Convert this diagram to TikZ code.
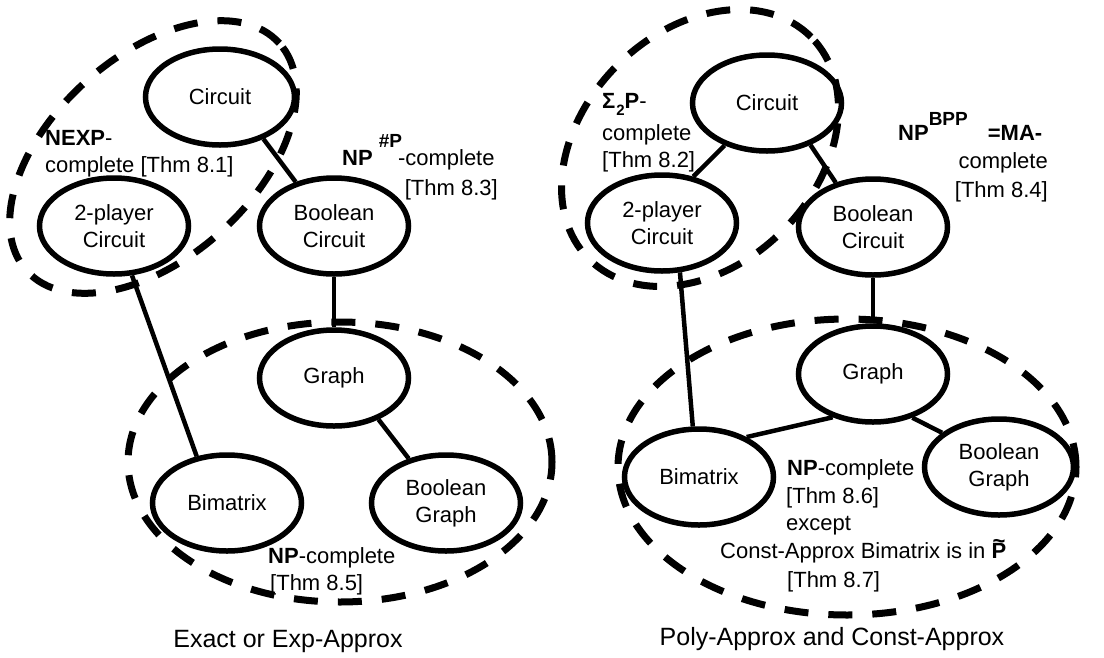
\documentclass[tikz,border=0pt]{standalone}
\usepackage{fontspec}
\setmainfont{Liberation Sans}
\usepackage{tikz}
\usetikzlibrary{shapes.geometric, positioning}
\newcommand\nodefont{\fontsize{22}{27}\selectfont}
\newcommand\capfont{\fontsize{25}{30}\selectfont}
\newcommand\cls[1]{{\bfseries #1}}
\newcommand\supcls[2]{\raisebox{#1}{\fontsize{19}{19}\selectfont\bfseries #2}}
\newcommand\ptilde{{\bfseries\setbox0\hbox{P}\rlap{\hbox to\wd0{\hss\raisebox{0.45em}{\textasciitilde}\hss}}\box0}}
\tikzstyle{problem} = [ellipse, draw=black, line width=5.5pt, minimum width=149pt, minimum height=96pt, inner sep=0pt, align=center, font=\nodefont]
\tikzstyle{group} = [draw=black, line width=7pt, dash pattern=on 24pt off 20pt]
\tikzstyle{link} = [draw=black, line width=4.5pt]
\tikzstyle{note} = [anchor=base west, inner sep=0pt, font=\nodefont]
\tikzstyle{caption} = [anchor=base, inner sep=0pt, font=\capfont]

\begin{document}
\begin{tikzpicture}[x=1pt, y=1pt, node distance=125pt]
\useasboundingbox (0,0) rectangle (1104,-657);

\node (cir1) [problem] at (220,-97) {Circuit};
\node (tp1) [problem, below of=cir1, xshift=-106pt, yshift=-4pt] {2-player\\Circuit};
\node (bc1) [problem, right of=tp1, xshift=95pt] {Boolean\\Circuit};
\node (gr1) [problem, below of=bc1, yshift=-27pt] {Graph};
\node (bm1) [problem, below of=gr1, xshift=-107pt] {Bimatrix};
\node (bg1) [problem, right of=bm1, xshift=94pt] {Boolean\\Graph};

\node (cir2) [problem, right of=cir1, xshift=422pt, yshift=-6pt] {Circuit};
\node (tp2) [problem, below of=cir2, xshift=-105pt, yshift=5pt] {2-player\\Circuit};
\node (bc2) [problem, right of=tp2, xshift=86pt, yshift=-4pt] {Boolean\\Circuit};
\node (gr2) [problem, below of=bc2, yshift=-22pt] {Graph};
\node (bm2) [problem, below of=gr2, xshift=-174pt, yshift=22pt] {Bimatrix};
\node (bg2) [problem, right of=bm2, xshift=175pt, yshift=10pt] {Boolean\\Graph};

\draw [group, rotate around={42:(153,-157)}] (153,-157) ellipse [x radius=170pt, y radius=101pt];
\draw [group] (340,-462) ellipse [x radius=212pt, y radius=140pt];
\draw [group, rotate around={45:(700,-148)}] (700,-148) ellipse [x radius=157pt, y radius=117pt];
\draw [group] (847,-467) ellipse [x radius=229pt, y radius=148pt];

\draw [link] (cir1.316) -- (bc1.131);
\draw [link] (bc1.south) -- (gr1.north);
\draw [link] (tp1.290) -- (bm1.123);
\draw [link] (gr1.317) -- (bg1.130);

\draw [link] (cir2.225) -- (tp2.56);
\draw [link] (cir2.316) -- (bc2.130);
\draw [link] (bc2.south) -- (gr2.north);
\draw [link] (tp2.290) -- (bm2.97);
\draw [link] (gr2.227) -- (bm2.40);
\draw [link] (gr2.312) -- (bg2.149);

\node (nexp1) [note] at (45,-145) {\cls{NEXP}-};
\node (nexp2) [note] at (45,-172) {complete [Thm 8.1]};
\node (sharp1) [note] at (342,-165) {\cls{NP}\kern6pt\supcls{18pt}{\#P}\kern-4pt-complete};
\node (sharp2) [note, anchor=base east] at (498,-195) {[Thm 8.3]};
\node (npc1) [note] at (268,-563) {\cls{NP}-complete};
\node (npc2) [note] at (270,-590) {[Thm 8.5]};

\node (sig1) [note] at (602,-108) {\cls{Σ\kern1pt\raisebox{-7pt}{\fontsize{15}{15}\selectfont 2}P}-};
\node (sig2) [note] at (602,-140) {complete};
\node (sig3) [note] at (602,-167) {[Thm 8.2]};
\node (bpp1) [note] at (898,-140) {\cls{NP}\supcls{15pt}{BPP}\kern20pt\cls{=MA-}};
\node (bpp2) [note, anchor=base east] at (1048,-168) {complete};
\node (bpp3) [note, anchor=base east] at (1048,-197) {[Thm 8.4]};
\node (npc3) [note] at (787,-475) {\cls{NP}-complete};
\node (npc4) [note] at (786,-503) {[Thm 8.6]};
\node (exc1) [note] at (786,-530) {except};
\node (exc2) [note] at (720,-558) {Const-Approx Bimatrix is in \ptilde};
\node (exc3) [note] at (787,-587) {[Thm 8.7]};

\node (cap1) [caption] at (288,-647) {Exact or Exp-Approx};
\node (cap2) [caption] at (832,-645) {Poly-Approx and Const-Approx};

\end{tikzpicture}
\end{document}
